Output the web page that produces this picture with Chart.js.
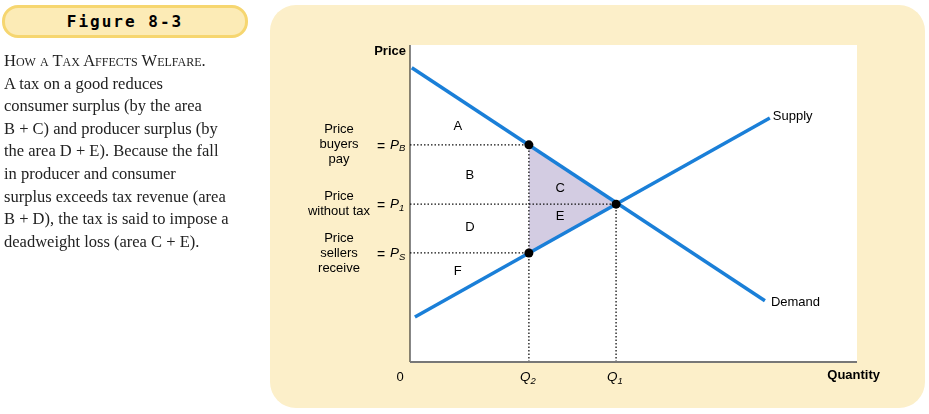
<!DOCTYPE html>
<html>
<head>
<meta charset="utf-8">
<script src="https://cdn.jsdelivr.net/npm/chart.js@4"></script>
<style>
  body { margin: 0; background: #fff; }
  #wrap { position: relative; width: 929px; height: 414px; }
  #tag { position: absolute; left: 2px; top: 5px; width: 240px; height: 27px; border: 3px solid #f6d670;
         border-radius: 16px; background: #fcebb6; text-align: center;
         font: bold 16px "DejaVu Sans Mono", monospace; letter-spacing: 2px; line-height: 27px; }
  #cap { position: absolute; left: 4px; top: 50px; width: 260px; font: 16.5px "Liberation Serif", serif; line-height: 22.6px; color: #222; }
  .sc { font-variant: small-caps; }
</style>
</head>
<body>
<div id="wrap">
  <canvas id="myChart" width="929" height="414"></canvas>
  <div id="tag">Figure 8-3</div>
  <div id="cap"><span class="sc">How a Tax Affects Welfare.</span><br>A tax on a good reduces<br>consumer surplus (by the area<br>B + C) and producer surplus (by<br>the area D + E). Because the fall<br>in producer and consumer<br>surplus exceeds tax revenue (area<br>B + D), the tax is said to impose a<br>deadweight loss (area C + E).</div>
</div>
<script>
// curves and key prices / quantities
var demandX = [0.04, 7.94];
var demandY = [9.28, 1.93];
var supplyX = [0.11, 8.05];
var supplyY = [1.42, 7.70];
var Q2 = 2.66, Q1 = 4.61;
var PB = 6.85, P1 = 4.98, PS = 3.44;
var areaLabels = ['A', 'B', 'C', 'D', 'E', 'F'];
var areaX = [1.07, 1.34, 3.36, 1.34, 3.36, 1.07];
var areaY = [7.44, 5.87, 5.49, 4.23, 4.58, 2.87];

function pts(xs, ys) { return xs.map(function(x, i) { return {x: x, y: ys[i]}; }); }
function dotted(data) {
    return { data: data, borderColor: '#111', borderWidth: 1.3, borderDash: [1.5, 2], pointRadius: 0, fill: false, order: 3 };
}

var decor = {
    id: 'decor',
    beforeDraw: function(chart) {
        var c = chart.ctx, a = chart.chartArea;
        c.save();
        c.fillStyle = '#fcefc9';
        c.beginPath();
        c.roundRect(270, 5, 655, 403, 26);
        c.fill();
        c.fillStyle = '#fff';
        c.fillRect(a.left, a.top, a.right - a.left, a.bottom - a.top);
        c.restore();
    },
    afterDraw: function(chart) {
        var c = chart.ctx, a = chart.chartArea;
        var xs = chart.scales.x, ys = chart.scales.y;
        c.save();
        c.strokeStyle = '#111'; c.lineWidth = 1;
        c.beginPath(); c.moveTo(a.left, a.top); c.lineTo(a.left, a.bottom); c.stroke();
        c.strokeStyle = '#777'; c.lineWidth = 2;
        c.beginPath(); c.moveTo(a.left, a.bottom); c.lineTo(a.right, a.bottom); c.stroke();
        // equilibrium and tax points on top
        c.fillStyle = '#000';
        [[Q2, PB], [Q1, P1], [Q2, PS]].forEach(function(p) {
            c.beginPath();
            c.arc(xs.getPixelForValue(p[0]), ys.getPixelForValue(p[1]), 4.5, 0, Math.PI * 2);
            c.fill();
        });
        c.fillStyle = '#000';
        c.textBaseline = 'middle';
        c.font = 'bold 13px "Liberation Sans"';
        c.textAlign = 'right';
        c.fillText('Price', a.left - 4, a.top + 6);
        c.fillText('Quantity', a.right + 23, a.bottom + 13);
        c.font = '13px "Liberation Sans"';
        c.textAlign = 'center';
        c.fillText('0', a.left - 10, a.bottom + 15);
        for (var i = 0; i < areaLabels.length; i++) {
            c.fillText(areaLabels[i], xs.getPixelForValue(areaX[i]), ys.getPixelForValue(areaY[i]));
        }
        c.textAlign = 'left';
        c.fillText('Supply', xs.getPixelForValue(supplyX[1]) + 3, ys.getPixelForValue(supplyY[1]) - 1);
        c.fillText('Demand', xs.getPixelForValue(demandX[1]) + 6, ys.getPixelForValue(demandY[1]) + 2);

        function sym(x, y, main, sub) {
            c.textAlign = 'left';
            c.font = 'italic 13.5px "Liberation Sans"';
            c.fillText(main, x, y);
            var w = c.measureText(main).width;
            c.font = 'italic 9.5px "Liberation Sans"';
            c.fillText(sub, x + w, y + 4);
        }
        sym(xs.getPixelForValue(Q2) - 9, a.bottom + 15, 'Q', '2');
        sym(xs.getPixelForValue(Q1) - 9, a.bottom + 15, 'Q', '1');

        function priceLabel(lines, p, sub) {
            var y = ys.getPixelForValue(p);
            c.font = '13px "Liberation Sans"';
            c.textAlign = 'center';
            var top = y - (lines.length - 1) * 7.5;
            lines.forEach(function(t, j) { c.fillText(t, 339, top + j * 15); });
            c.font = '14px "Liberation Sans"';
            c.fillText('=', 381, y + 2);
            sym(390, y, 'P', sub);
        }
        priceLabel(['Price', 'buyers', 'pay'], PB, 'B');
        priceLabel(['Price', 'without tax'], P1, '1');
        priceLabel(['Price', 'sellers', 'receive'], PS, 'S');
        c.restore();
    }
};

var ctx = document.getElementById('myChart').getContext('2d');
var myChart = new Chart(ctx, {
    type: 'line',
    data: {
        datasets: [
            { data: [{x: Q2, y: PB}, {x: Q1, y: P1}], borderWidth: 0, pointRadius: 0, backgroundColor: '#d3cce2', fill: '+1', order: 4 },
            { data: [{x: Q2, y: PS}, {x: Q1, y: P1}], borderWidth: 0, pointRadius: 0, fill: false, order: 4 },
            dotted([{x: 0, y: PB}, {x: Q2, y: PB}]),
            dotted([{x: 0, y: P1}, {x: Q1, y: P1}]),
            dotted([{x: 0, y: PS}, {x: Q2, y: PS}]),
            dotted([{x: Q2, y: 0}, {x: Q2, y: PB}]),
            dotted([{x: Q1, y: 0}, {x: Q1, y: P1}]),
            { data: pts(demandX, demandY), borderColor: '#1a7fd8', borderWidth: 3.5, pointRadius: 0, fill: false, order: 1 },
            { data: pts(supplyX, supplyY), borderColor: '#1a7fd8', borderWidth: 3.5, pointRadius: 0, fill: false, order: 1 }
        ]
    },
    options: {
        responsive: false,
        animation: false,
        clip: false,
        layout: { padding: { left: 410, right: 72, top: 45, bottom: 52 } },
        plugins: { legend: { display: false }, tooltip: { enabled: false } },
        scales: {
            x: { type: 'linear', min: 0, max: 10, display: false },
            y: { type: 'linear', min: 0, max: 10, display: false }
        }
    },
    plugins: [decor]
});
</script>
</body>
</html>
